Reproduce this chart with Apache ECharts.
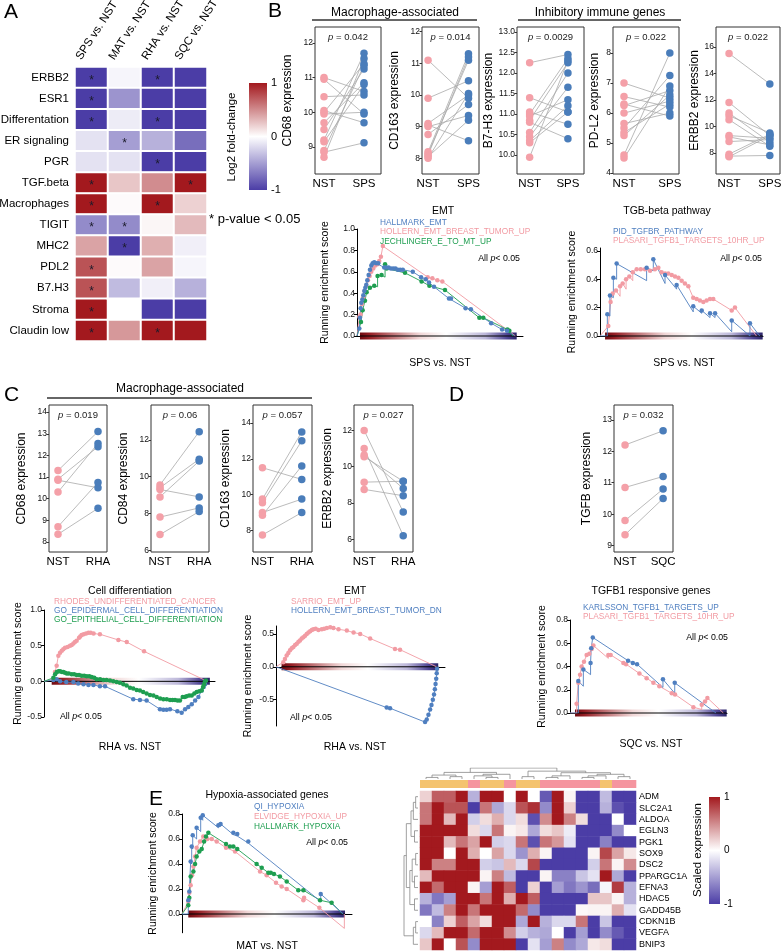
<!DOCTYPE html>
<html><head><meta charset="utf-8">
<script src="https://cdn.jsdelivr.net/npm/echarts@6/dist/echarts.min.js"></script>
<style>html,body{margin:0;padding:0;background:#fff}#c{width:784px;height:952px}</style>
</head><body><div id="c"></div>
<script>
// ================= DATA =================
// Panel A heatmap
const heatA_rows = ['ERBB2','ESR1','Differentation','ER signaling','PGR','TGF.beta','Macrophages','TIGIT','MHC2','PDL2','B7.H3','Stroma','Claudin low'];
const heatA_cols = ['SPS vs. NST','MAT vs. NST','RHA vs. NST','SQC vs. NST'];
const heatA_SPS = [-1,-1,-1,-0.15,-0.15,1,1,-0.6,0.4,0.75,0.75,1,1];
const heatA_MAT = [-0.05,-0.55,-0.1,-0.5,-0.15,0.25,0.02,-0.6,-1,0.02,-0.35,0,0.45];
const heatA_RHA = [-1,-1,-1,-0.4,-1,0.5,1,0.04,0.35,0.4,-0.08,-1,1];
const heatA_SQC = [-1,-1,-1,-0.75,-1,1,0.2,0.3,-0.08,-0.05,-0.4,-1,1];
const starA_SPS = [0,1,2,5,6,7,9,10,11,12];
const starA_MAT = [3,7,8];
const starA_RHA = [0,2,4,6,12];
const starA_SQC = [5];
const cbTicks = [-1,0,1];

// Panel B paired plots (NST vs SPS)
const b_CD68_NST  = [11.0,10.95,10.45,10.05,10.0,9.95,9.7,9.5,9.2,9.15,8.9,8.85,8.7];
const b_CD68_SPS  = [10.6,9.95,10.5,9.7,11.4,10.0,10.85,11.25,11.7,10.8,11.35,9.12,11.55];
const b_CD163_NST = [11.1,9.9,9.1,9.05,9.0,8.75,8.2,8.15,8.1,8.05,8.0];
const b_CD163_SPS = [9.9,10.45,10.0,8.55,9.35,9.7,11.3,11.1,11.2,9.2,10.05];
const b_B7H3_NST  = [12.25,11.4,11.05,11.0,10.95,10.85,10.8,10.55,10.45,10.35,10.3,9.95];
const b_B7H3_SPS  = [12.45,11.05,10.75,12.35,11.35,12.25,10.4,12.0,11.65,11.2,11.05,12.3];
const b_PDL2_NST  = [7.0,6.55,6.3,6.25,6.0,5.65,5.5,5.35,5.25,4.6,4.5];
const b_PDL2_SPS  = [6.5,6.2,5.9,6.75,6.4,6.0,7.25,6.3,6.6,8.0,6.9];
const b_ERBB2_NST = [15.5,11.8,11.0,10.8,10.5,9.3,9.2,8.85,7.9,7.75,7.7];
const b_ERBB2_SPS = [13.2,9.3,8.8,9.5,8.5,9.1,8.6,9.0,9.4,7.8,9.3];
const b_pvals = ['0.042','0.014','0.0029','0.022','0.022'];

// Panel C paired plots (NST vs RHA) and D (NST vs SQC)
const c_CD68_NST  = [11.3,10.9,10.85,10.3,8.7,8.35];
const c_CD68_RHA  = [13.1,12.4,10.5,12.55,10.75,9.55];
const c_CD84_NST  = [9.55,9.4,9.3,8.9,7.8,6.85];
const c_CD84_RHA  = [12.45,10.95,8.9,10.85,8.3,8.1];
const c_CD163_NST = [11.5,9.75,9.55,9.0,8.85,7.75];
const c_CD163_RHA = [10.85,13.5,13.0,9.75,11.6,9.0];
const c_ERBB2_NST = [12.0,11.0,10.65,10.55,9.15,8.75];
const c_ERBB2_RHA = [7.5,6.2,8.8,9.2,9.2,8.4];
const c_pvals = ['0.019','0.06','0.057','0.027'];
const d_TGFB_NST  = [12.2,10.85,9.8,9.35];
const d_TGFB_SQC  = [12.65,11.2,10.8,10.5];
const d_pval = '0.032';

// GSEA curves: [rank, ES] or [rank, ES, ES just before the hit]
const gEmtHallmark = [[1.4,0.07],[1.8,0.17],[2.2,0.26],[2.6,0.31],[3.2,0.34],[3.8,0.38],[4.4,0.42],[5,0.45],[5.6,0.48],[6.2,0.52],[7,0.57],[7.8,0.62],[8.6,0.66],[9.4,0.68],[10.4,0.69],[11.6,0.68],[12.8,0.68],[16.4,0.64],[17.6,0.64],[19,0.64],[20.4,0.63],[21.8,0.63],[23.2,0.63],[24.6,0.62],[26,0.62],[27.6,0.62],[33.6,0.6],[38.6,0.55],[41.4,0.53],[43.4,0.5],[46.4,0.46],[55.4,0.35],[56.6,0.35],[65.4,0.26],[68.6,0.25],[80.8,0.12],[87.4,0.06],[90.4,0.05]];
const gEmtHollern = [[1.4,0.18],[2.2,0.2,0.15],[3,0.3],[3.8,0.36],[4.6,0.42],[5.6,0.47],[6.6,0.52],[7.6,0.56],[8.6,0.6],[9.8,0.63],[11,0.66],[12.2,0.67],[13.4,0.7],[14.4,0.74],[15.6,0.84],[42.6,0.55],[45.4,0.54],[48.4,0.52],[51.4,0.51]];
const gEmtJech = [[2.4,0.13],[3.4,0.24],[4.8,0.33],[5.8,0.41],[7.8,0.45],[10.4,0.47],[12.4,0.56,0.46],[14.8,0.57],[16.9,0.67,0.55],[17.9,0.63],[28.9,0.59],[38.9,0.51],[43.6,0.47],[53,0.43],[73.7,0.17],[76.1,0.17],[90.6,0.06],[91.8,0.05]];
const gPid = [[4.5,0.154,0],[6.1,0.286,0.14],[8.2,0.41,0.27],[10.2,0.51,0.4],[28.6,0.48,0.39],[32.7,0.54,0.46],[39.9,0.43,0.37],[47,0.36,0.33],[57.2,0.21,0.17],[62.4,0.18,0.16],[67.5,0.16,0.13],[70.6,0.16,0.13],[80.8,0.11,0.03],[92,0.09,0.0]];
const gPlasariB = [[5.1,0.07],[6.5,0.24],[7.8,0.3],[9.8,0.32],[12.3,0.35,0.28],[13.9,0.37],[16,0.4,0.33],[18,0.42],[20.1,0.45,0.39],[22.5,0.47],[25,0.47],[27.6,0.47],[30.7,0.46],[33.7,0.47],[35.8,0.48],[37.8,0.45],[39.9,0.44],[41.9,0.44],[44,0.43],[46,0.42],[48.1,0.41],[50.1,0.39],[52.1,0.37],[54.2,0.35],[57.2,0.27],[59.3,0.26],[61.3,0.25],[63.4,0.24],[65.4,0.25],[67.5,0.26],[69.5,0.26],[80.8,0.18],[82.8,0.2]];
const gRhodes = [[5.5,0.03],[6.4,0.13],[7.4,0.22],[8.4,0.36],[9.4,0.4],[10.4,0.43],[11.3,0.45],[12.3,0.47],[13.8,0.48],[15.2,0.5],[16.2,0.51],[17.2,0.53],[18.1,0.55],[19.1,0.57],[20.5,0.61],[21.2,0.63],[22,0.65],[23.2,0.66],[24.6,0.67],[26,0.68],[27.3,0.68],[29,0.67],[32.7,0.66],[43.5,0.58],[48.4,0.55],[58.5,0.42]];
const gEpidermal = [[5.5,0.02],[7.4,0.03],[9.4,0.0],[13,-0.01],[17.2,-0.01],[20,-0.03],[23.1,-0.04],[26,-0.05],[28.9,-0.05],[32.7,-0.07],[35.7,-0.07],[52.2,-0.25],[56.1,-0.26],[60,-0.27],[67.8,-0.39],[69.8,-0.4],[71.7,-0.4],[73.7,-0.39],[78,-0.42],[80.5,-0.44],[82.5,-0.39],[84.4,-0.36],[86.4,-0.32],[88.4,-0.27],[90.3,-0.22],[92.2,-0.13],[93.4,-0.08],[94.2,-0.04]];
const gEpithelial = [[5.5,0.05],[6.5,0.1],[7.5,0.13],[8.5,0.14],[9.4,0.14],[10.5,0.13],[11.3,0.13],[12.3,0.12],[13.3,0.11],[14.5,0.11],[16.2,0.1],[17.6,0.1],[19.1,0.09],[20.5,0.09],[22,0.08],[23.5,0.08],[25,0.07],[26.5,0.07],[27.9,0.06],[29.4,0.05],[30.8,0.03],[32.8,0.03],[34.7,0.02],[36.6,0.02],[38.6,0.01],[40.5,0.0],[42.5,-0.01],[44.4,-0.02],[46.4,-0.04],[48.3,-0.06],[50.3,-0.09],[52.2,-0.1],[54.2,-0.12],[56.1,-0.13],[58,-0.15],[60,-0.17],[62,-0.19],[64,-0.2],[65.9,-0.22],[67.9,-0.24],[69.8,-0.25],[71.8,-0.25],[73.7,-0.26],[75.2,-0.26],[76.6,-0.26],[78.1,-0.27],[79.5,-0.27],[81.1,-0.22],[82.3,-0.22],[83.4,-0.21],[84.9,-0.2],[86.4,-0.2],[87.9,-0.17],[89.3,-0.15],[90.8,-0.14],[92.2,-0.13],[93,-0.08],[93.6,-0.04],[94.2,0.0],[94.7,0.01]];
const gSarrio = [[4.3,0.07],[5.3,0.12],[6.3,0.17],[7.3,0.21],[8.3,0.25],[9.3,0.28],[10.3,0.3],[11.3,0.33],[12.3,0.35],[13.3,0.38],[14.2,0.4],[15.2,0.43],[16.2,0.45],[17.2,0.47],[18.2,0.5],[19.2,0.52],[20.2,0.54],[21.2,0.56],[22.1,0.57],[23.5,0.58],[25.1,0.56],[27.1,0.57],[28.5,0.58],[30.1,0.59],[32.1,0.6],[34,0.59],[37,0.57],[41.9,0.55],[45.9,0.52],[49.8,0.5],[55.7,0.43],[70.4,0.27],[73.4,0.26]];
const gHollernDn = [[65.5,-0.62],[67.5,-0.63],[88.2,-0.84],[89.2,-0.8],[90.2,-0.73],[91.2,-0.65],[92,-0.58],[92.8,-0.5],[93.5,-0.42],[94,-0.34],[94.4,-0.26],[94.8,-0.18],[95.1,-0.1],[95.3,-0.03]];
const gKarlsson = [[5.3,0.275,0],[8.5,0.375,0.23],[13.1,0.43,0.33],[13.5,0.556,0.43],[14.5,0.65,0.556],[37,0.45],[40,0.43],[42.7,0.42],[59.2,0.29,0.22],[66.7,0.26,0.17]];
const gPlasariD = [[4.2,0.08,0],[5.3,0.26],[6.4,0.33],[7.4,0.4],[8.9,0.44],[10.6,0.5],[12.3,0.51],[13.8,0.55],[14.9,0.58],[24.4,0.5,0.47],[25.9,0.5],[34,0.43],[35.7,0.42],[44.2,0.34],[48.8,0.3],[53.1,0.26],[56.9,0.23],[64.8,0.17],[66.9,0.16],[78.6,0.05],[83.9,0.07,0.03],[86,0.1],[87.5,0.13]];
const gQi = [[3.7,0.11,0],[4.3,0.18,0.1],[5.1,0.42,0.17],[5.7,0.54,0.4],[6.3,0.63,0.52],[8.6,0.69,0.6],[11,0.77,0.66],[12.2,0.79,0.75],[21.4,0.71,0.69],[22.7,0.72,0.7],[30.2,0.65,0.635],[32.5,0.64,0.624],[39,0.58,0.567],[81.6,0.16,0.1]];
const gElvidge = [[3.7,0.1],[4.3,0.17],[5.1,0.23],[5.9,0.31],[6.7,0.38],[7.7,0.46],[8.6,0.53],[10.6,0.58],[12.5,0.62],[14.9,0.6],[17.5,0.6],[20.4,0.58],[25.9,0.53],[31.2,0.5],[45.9,0.34],[49.8,0.31],[55.3,0.25],[58.6,0.22],[61.6,0.2],[71.4,0.11],[71.8,0.13],[80.8,0.05]];
const gHallmarkHyp = [[3.7,0.07],[4.3,0.13],[5.1,0.3],[6.7,0.34],[7.7,0.4],[8.6,0.46],[10.2,0.5],[11.6,0.52],[13,0.58],[14.1,0.62],[15.5,0.65],[25.9,0.56],[28.2,0.54],[30.2,0.54],[32.5,0.52],[43.9,0.4],[46.9,0.37],[50.8,0.33],[52.2,0.33],[54.1,0.32],[57.6,0.3],[61.6,0.26],[68.4,0.19],[71.4,0.19],[81.2,0.11],[88,0.09]];

// Panel E heatmap
const heatE_genes = ['ADM','SLC2A1','ALDOA','EGLN3','PGK1','SOX9','DSC2','PPARGC1A','EFNA3','HDAC5','GADD45B','CDKN1B','VEGFA','BNIP3'];
const heatE_ADM      = [0.2,0.7,0.7,1,-0.4,1,1,0,1,0,-0.85,1,0.05,-1,-1,-0.35,-1,-1];
const heatE_SLC2A1   = [0.6,1,0.75,0.75,-1,0.6,-0.45,-0.2,0.75,0.9,-0.6,1,0.2,-1,-1,-0.4,-0.9,-1];
const heatE_ALDOA    = [0.6,1,0.3,1,-0.25,0.15,0.35,-0.2,0.15,-0.9,0.5,1,0.55,0.15,-1,-1,0,-1];
const heatE_EGLN3    = [1,1,1,1,0.15,-0.2,0.6,0.05,0.1,-0.45,0.15,0.25,-0.1,-1,-1,-1,-0.6,0];
const heatE_PGK1     = [1,1,0.3,0.6,0.4,1,-0.25,-0.2,0.6,-0.9,0.6,0.45,-0.15,-1,-1,-0.65,-1,-1];
const heatE_SOX9     = [1,1,0,1,0.35,0,0.4,-0.2,-0.55,0.35,0.05,-1,-1,-1,0.05,0.8,0.4,0.1];
const heatE_DSC2     = [1,0.55,0.55,1,1,-0.25,-0.3,0.3,-0.2,0.8,-1,-1,-1,-1,-0.25,0.6,0.05,0.5];
const heatE_PPARGC1A = [0.3,1,1,1,1,0.05,0.55,-0.35,-1,-1,0.05,-0.65,-0.65,-0.3,-0.15,1,-0.45,-1];
const heatE_EFNA3    = [1,0.65,1,1,0.05,-0.5,1,0.7,-1,0.2,-1,-0.5,-0.7,-0.55,-0.75,-0.05,0.85,-0.4];
const heatE_HDAC5    = [-0.4,-0.7,-0.5,1,1,0.6,1,0.35,1,0.7,-1,-1,-1,-1,0.25,0.25,0.05,-0.4];
const heatE_GADD45B  = [-0.7,-0.35,0.55,1,0.6,1,1,1,0.65,-0.6,-1,-1,-1,0.03,0.05,0.05,0.35,-0.15];
const heatE_CDKN1B   = [0,-0.65,0.2,0.7,0.4,0.15,1,1,-0.45,1,-0.4,-0.2,-0.2,0.6,-1,-0.3,-1,-1];
const heatE_VEGFA    = [-0.2,0.3,1,1,0.65,1,1,0.5,-0.25,-0.4,-0.45,0,-1,-0.5,-1,-0.6,-0.85,-1];
const heatE_BNIP3    = [0.25,1,0,0.75,-0.6,1,1,1,-1,-0.15,-0.5,0.55,-0.6,-0.45,0.1,0.15,-1,-1];
const heatE_groups   = ['MAT','MAT','MAT','MAT','NST','MAT','MAT','NST','MAT','MAT','NST','NST','NST','NST','NST','MAT','NST','NST'];
// dendrogram merges: [childA, childB, height]; leaves are 0..n-1, merge k creates node n+k
const colMerges = [[0,1,1],[2,3,1.5],[18,19,2.5],[5,6,1],[4,21,2],[22,7,3],[20,23,4.2],[8,9,1.5],[10,11,1],[26,12,2],[13,14,1],[28,15,2],[16,17,1.5],[29,30,3],[27,31,4],[25,32,5],[24,33,7]];
const rowMerges = [[0,1,1],[14,2,2],[3,4,1.5],[15,16,3],[5,6,1],[7,8,1.5],[18,19,2.5],[9,10,1.5],[20,21,3.5],[17,22,5],[11,12,1],[24,13,2],[23,25,6]];

// ================= BUILD =================
const FONT = "'Liberation Sans', Arial, Helvetica, sans-serif";
const PINK = '#F4A0A8', BLUE = '#4A7DBA';
const GS_PINK = '#F29BA3', GS_BLUE = '#4F7FC0', GS_GREEN = '#1E9E50';
const HM_LOW = '#4B3DA6', HM_MID = '#FFFFFF', HM_HIGH = '#A3191E';
const grids = [], xAxes = [], yAxes = [], series = [], graphics = [];

function addGrid(g) { grids.push(Object.assign({ outerBoundsMode: 'none' }, g)); return grids.length - 1; }
function T(x, y, text, o) {
  o = o || {};
  const st = { text: text, fill: o.color || '#000', fontSize: o.size || 11, fontFamily: FONT,
    fontStyle: o.italic ? 'italic' : 'normal', align: o.align || 'left', verticalAlign: o.va || 'middle' };
  if (o.rich) st.rich = o.rich;
  graphics.push({ type: 'text', x: x, y: y, rotation: o.rot || 0, silent: true, z: 100, style: st });
}
function richP(size, color) {
  return { i: { fontStyle: 'italic', fontSize: size, fontFamily: FONT, fill: color },
           n: { fontSize: size, fontFamily: FONT, fill: color } };
}
function L(x1, y1, x2, y2, w, c) {
  graphics.push({ type: 'line', silent: true, z: 100, shape: { x1: x1, y1: y1, x2: x2, y2: y2 }, style: { stroke: c || '#555', lineWidth: w || 1 } });
}

// ---------- Paired plot ----------
function pairPlot(cfg) {
  const gi = addGrid({ left: cfg.left, top: cfg.top, width: cfg.width, height: cfg.height, show: true, borderColor: '#333', borderWidth: 1, backgroundColor: 'transparent' });
  xAxes.push({ gridIndex: gi, type: 'value', min: cfg.xmin, max: cfg.xmax,
    axisLine: { show: false, onZero: false }, axisTick: { show: false }, splitLine: { show: false },
    axisLabel: { customValues: [0, 1], formatter: v => (v < 0.5 ? cfg.cats[0] : cfg.cats[1]), fontSize: 11.5, color: '#000', margin: 4, fontFamily: FONT } });
  yAxes.push({ gridIndex: gi, type: 'value', min: cfg.ymin, max: cfg.ymax,
    axisLine: { show: false, onZero: false }, splitLine: { show: false },
    axisTick: { show: true, customValues: cfg.ticks, length: 2.5, lineStyle: { color: '#333' } },
    axisLabel: { customValues: cfg.ticks, formatter: v => cfg.dec ? v.toFixed(cfg.dec) : String(v), fontSize: 8.5, color: '#111', margin: 2, fontFamily: FONT },
    name: cfg.yname, nameLocation: 'middle', nameGap: cfg.nameGap, nameTextStyle: { fontSize: 12, color: '#000', fontFamily: FONT } });
  const xi = xAxes.length - 1, yi = yAxes.length - 1;
  series.push({ type: 'lines', coordinateSystem: 'cartesian2d', xAxisIndex: xi, yAxisIndex: yi, silent: true,
    lineStyle: { color: '#A9A9A9', width: 0.8, opacity: 1 },
    data: cfg.a.map((v, i) => ({ coords: [[0, v], [1, cfg.b[i]]] })) });
  series.push({ type: 'scatter', xAxisIndex: xi, yAxisIndex: yi, symbolSize: 7.5, silent: true,
    itemStyle: { color: PINK, opacity: 1 }, data: cfg.a.map(v => [0, v]) });
  series.push({ type: 'scatter', xAxisIndex: xi, yAxisIndex: yi, symbolSize: 7.5, silent: true,
    itemStyle: { color: BLUE, opacity: 1 }, data: cfg.b.map(v => [1, v]) });
  T(cfg.left + cfg.width / 2, cfg.top + 10, '{i|p}{n| = ' + cfg.p + '}', { align: 'center', rich: richP(9.5, '#222') });
}

// ---------- GSEA plot ----------
const barStops = [{ offset: 0, color: '#6E0A10' }, { offset: 0.06, color: '#951E24' }, { offset: 0.38, color: '#F1D7D7' },
  { offset: 0.55, color: '#FFFFFF' }, { offset: 0.8, color: '#BDB8DA' }, { offset: 0.94, color: '#4E4493' }, { offset: 1, color: '#2B2467' }];
function gsea(cfg) {
  const gi = addGrid({ left: cfg.left, top: cfg.top, width: cfg.width, height: cfg.height });
  xAxes.push({ gridIndex: gi, type: 'value', min: 0, max: 100, axisLine: { onZero: true, lineStyle: { color: '#000', width: 1 } },
    axisTick: { show: false }, axisLabel: { show: false }, splitLine: { show: false } });
  yAxes.push({ gridIndex: gi, type: 'value', min: cfg.min, max: cfg.max,
    axisLine: { show: true, onZero: false, lineStyle: { color: '#000', width: 1 } }, splitLine: { show: false },
    axisTick: { show: true, customValues: cfg.ticks, length: 3, lineStyle: { color: '#000' } },
    axisLabel: { customValues: cfg.ticks, formatter: v => v.toFixed(1), fontSize: 8.5, color: '#111', margin: 2, fontFamily: FONT },
    name: 'Running enrichment score', nameLocation: 'middle', nameGap: cfg.nameGap, nameTextStyle: { fontSize: 10.5, color: '#000', fontFamily: FONT } });
  const xi = xAxes.length - 1, yi = yAxes.length - 1;
  series.push({ type: 'custom', xAxisIndex: xi, yAxisIndex: yi, silent: true, z: 1, data: [[cfg.bar[0], 0, cfg.bar[1]]],
    renderItem: (params, api) => {
      const p0 = api.coord([api.value(0), 0]), p1 = api.coord([api.value(2), 0]);
      return { type: 'group', children: [
        { type: 'rect', shape: { x: p0[0], y: p0[1] - 3.5, width: p1[0] - p0[0], height: 7 },
          style: { fill: new echarts.graphic.LinearGradient(0, 0, 1, 0, barStops) } },
        { type: 'line', shape: { x1: p0[0], y1: p0[1], x2: p1[0], y2: p1[1] }, style: { stroke: '#000', lineWidth: 1 } } ] };
    } });
  cfg.curves.forEach(cv => {
    const path = [[0, 0]];
    cv.d.forEach(p => { if (p.length > 2) path.push([p[0], p[2]]); path.push([p[0], p[1]]); });
    cv.end.forEach(p => path.push(p));
    series.push({ type: 'line', xAxisIndex: xi, yAxisIndex: yi, data: path, showSymbol: false, symbol: 'none', silent: true, z: 3,
      lineStyle: { color: cv.c, width: 0.9 } });
    series.push({ type: 'scatter', xAxisIndex: xi, yAxisIndex: yi, data: cv.d.map(p => [p[0], p[1]]), symbolSize: 4.5, silent: true, z: 4,
      itemStyle: { color: cv.c, opacity: 1 } });
  });
  T(cfg.title[0], cfg.title[1], cfg.title[2], { align: 'center', size: 10.5 });
  cfg.legend.forEach((lg, i) => T(cfg.legX, cfg.legY[i], lg[0], { color: lg[1], size: 8.3 }));
  T(cfg.allp[0], cfg.allp[1], '{n|All }{i|p}{n|< 0.05}', { align: cfg.allp[2], rich: richP(8.8, '#000') });
  T(cfg.xt[0], cfg.xt[1], cfg.xt[2], { align: 'center', size: 10.5 });
}

// ---------- Colorbar ----------
function colorbar(left, top, width, height, size) {
  const gi = addGrid({ left: left, top: top, width: width, height: height });
  xAxes.push({ gridIndex: gi, type: 'value', show: false, min: 0, max: 1 });
  yAxes.push({ gridIndex: gi, type: 'value', position: 'right', min: -1, max: 1,
    axisLine: { show: false, onZero: false }, axisTick: { show: false }, splitLine: { show: false },
    axisLabel: { customValues: cbTicks, fontSize: size, color: '#000', margin: 4, fontFamily: FONT } });
  series.push({ type: 'custom', xAxisIndex: xAxes.length - 1, yAxisIndex: yAxes.length - 1, silent: true, data: [[0.5, 0]],
    renderItem: (params) => {
      const cs = params.coordSys;
      return { type: 'rect', shape: { x: cs.x, y: cs.y, width: cs.width, height: cs.height },
        style: { fill: new echarts.graphic.LinearGradient(0, 0, 0, 1, [{ offset: 0, color: HM_HIGH }, { offset: 0.5, color: HM_MID }, { offset: 1, color: HM_LOW }]) } };
    } });
}

// ================= PANEL A =================
const A_LEFT = 75, A_TOP = 67, A_W = 132, A_H = 274;
let gi = addGrid({ left: A_LEFT, top: A_TOP, width: A_W, height: A_H });
xAxes.push({ gridIndex: gi, type: 'category', data: heatA_cols, position: 'top', axisLine: { show: false }, axisTick: { show: false },
  splitLine: { show: false }, axisLabel: { show: false } });
yAxes.push({ gridIndex: gi, type: 'category', data: heatA_rows, inverse: true, axisLine: { show: false }, axisTick: { show: false },
  splitLine: { show: false }, axisLabel: { fontSize: 11.5, color: '#000', margin: 6, interval: 0, fontFamily: FONT } });
// rotated column headers (bottom-left corner of each label sits just above its column)
heatA_cols.forEach((name, c) => {
  const cx = A_LEFT + A_W / heatA_cols.length * (c + 0.5);
  T(cx - 8, A_TOP - 5, name, { rot: 57 * Math.PI / 180, va: 'bottom', size: 11.5 });
});
const heatA_vals = [heatA_SPS, heatA_MAT, heatA_RHA, heatA_SQC];
const heatA_stars = [starA_SPS, starA_MAT, starA_RHA, starA_SQC];
const heatA_data = [];
heatA_vals.forEach((col, c) => col.forEach((v, r) => heatA_data.push([c, r, v, heatA_stars[c].includes(r) ? 1 : 0])));
const idxA = series.length;
series.push({ type: 'heatmap', xAxisIndex: xAxes.length - 1, yAxisIndex: yAxes.length - 1, data: heatA_data, silent: true,
  itemStyle: { borderColor: '#fff', borderWidth: 2 },
  label: { show: true, formatter: p => (p.value[3] ? '*' : ''), fontSize: 12, color: '#1b1b2b', offset: [0, 3], fontFamily: FONT } });
colorbar(249, 83, 18, 107, 11);
T(232, 137, 'Log2 fold-change', { align: 'center', rot: Math.PI / 2, size: 11.5 });
T(209, 219, '* p-value < 0.05', { size: 13 });

// ================= PANEL B =================
pairPlot({ left: 315, top: 27, width: 66, height: 147, xmin: -0.225, xmax: 1.425, ymin: 8.22, ymax: 12.46, ticks: [9, 10, 11, 12], cats: ['NST', 'SPS'], yname: 'CD68 expression', nameGap: 21, a: b_CD68_NST, b: b_CD68_SPS, p: b_pvals[0] });
pairPlot({ left: 422, top: 27, width: 57, height: 147, xmin: -0.15, xmax: 1.26, ymin: 7.5, ymax: 12.15, ticks: [8, 9, 10, 11, 12], cats: ['NST', 'SPS'], yname: 'CD163 expression', nameGap: 21, a: b_CD163_NST, b: b_CD163_SPS, p: b_pvals[1] });
pairPlot({ left: 517, top: 27, width: 67, height: 147, xmin: -0.33, xmax: 1.42, ymin: 9.54, ymax: 13.12, ticks: [10, 10.5, 11, 11.5, 12, 12.5, 13], dec: 1, cats: ['NST', 'SPS'], yname: 'B7-H3 expression', nameGap: 18, a: b_B7H3_NST, b: b_B7H3_SPS, p: b_pvals[2] });
pairPlot({ left: 613, top: 27, width: 66, height: 147, xmin: -0.24, xmax: 1.2, ymin: 3.97, ymax: 8.87, ticks: [4, 5, 6, 7, 8], cats: ['NST', 'SPS'], yname: 'PD-L2 expression', nameGap: 12, a: b_PDL2_NST, b: b_PDL2_SPS, p: b_pvals[3] });
pairPlot({ left: 716, top: 27, width: 64, height: 147, xmin: -0.32, xmax: 1.25, ymin: 6.4, ymax: 17.5, ticks: [8, 10, 12, 14, 16], cats: ['NST', 'SPS'], yname: 'ERBB2 expression', nameGap: 10, a: b_ERBB2_NST, b: b_ERBB2_SPS, p: b_pvals[4] });
T(395, 13, 'Macrophage-associated', { align: 'center', size: 12 });
L(312, 20, 477, 20, 2, '#666');
T(600, 13, 'Inhibitory immune genes', { align: 'center', size: 12 });
L(518, 20, 681, 20, 2, '#666');

gsea({ left: 357, top: 229, width: 166, height: 107, min: 0, max: 1.0, ticks: [0, 0.2, 0.4, 0.6, 0.8, 1.0], nameGap: 26, bar: [1.8, 96.2],
  curves: [{ d: gEmtHollern, end: [[95.5, 0]], c: GS_PINK }, { d: gEmtJech, end: [[94, 0]], c: GS_GREEN }, { d: gEmtHallmark, end: [[95, 0]], c: GS_BLUE }],
  title: [443, 211, 'EMT'], legX: 380, legY: [223, 232, 242],
  legend: [['HALLMARK_EMT', GS_BLUE], ['HOLLERN_EMT_BREAST_TUMOR_UP', GS_PINK], ['JECHLINGER_E_TO_MT_UP', GS_GREEN]],
  allp: [520, 259, 'right'], xt: [440, 363, 'SPS vs. NST'] });
gsea({ left: 600, top: 248, width: 163, height: 88, min: 0, max: 0.62, ticks: [0, 0.2, 0.4, 0.6], nameGap: 22, bar: [3.1, 99.8],
  curves: [{ d: gPlasariB, end: [[96, 0]], c: GS_PINK }, { d: gPid, end: [[98, 0]], c: GS_BLUE }],
  title: [667, 211, 'TGB-beta pathway'], legX: 613, legY: [232, 241],
  legend: [['PID_TGFBR_PATHWAY', GS_BLUE], ['PLASARI_TGFB1_TARGETS_10HR_UP', GS_PINK]],
  allp: [762, 259, 'right'], xt: [684, 363, 'SPS vs. NST'] });

// ================= PANEL C / D =================
pairPlot({ left: 49, top: 405, width: 58, height: 147, xmin: -0.225, xmax: 1.225, ymin: 7.53, ymax: 14.33, ticks: [8, 9, 10, 11, 12, 13, 14], cats: ['NST', 'RHA'], yname: 'CD68 expression', nameGap: 21, a: c_CD68_NST, b: c_CD68_RHA, p: c_pvals[0] });
pairPlot({ left: 151, top: 405, width: 58, height: 147, xmin: -0.23, xmax: 1.25, ymin: 5.9, ymax: 13.9, ticks: [6, 8, 10, 12], cats: ['NST', 'RHA'], yname: 'CD84 expression', nameGap: 21, a: c_CD84_NST, b: c_CD84_RHA, p: c_pvals[1] });
pairPlot({ left: 253, top: 405, width: 59, height: 147, xmin: -0.24, xmax: 1.26, ymin: 6.8, ymax: 15, ticks: [8, 10, 12, 14], cats: ['NST', 'RHA'], yname: 'CD163 expression', nameGap: 21, a: c_CD163_NST, b: c_CD163_RHA, p: c_pvals[2] });
pairPlot({ left: 354, top: 405, width: 59, height: 147, xmin: -0.26, xmax: 1.25, ymin: 5.3, ymax: 13.4, ticks: [6, 8, 10, 12], cats: ['NST', 'RHA'], yname: 'ERBB2 expression', nameGap: 20, a: c_ERBB2_NST, b: c_ERBB2_RHA, p: c_pvals[3] });
pairPlot({ left: 614, top: 405, width: 59, height: 147, xmin: -0.29, xmax: 1.26, ymin: 8.8, ymax: 13.47, ticks: [9, 10, 11, 12, 13], cats: ['NST', 'SQC'], yname: 'TGFB expression', nameGap: 21, a: d_TGFB_NST, b: d_TGFB_SQC, p: d_pval });
T(180, 389, 'Macrophage-associated', { align: 'center', size: 12 });
L(47, 398, 312, 398, 2, '#666');

gsea({ left: 44, top: 610, width: 171, height: 107, min: -0.5, max: 1.0, ticks: [-0.5, 0, 0.5, 1.0], nameGap: 20, bar: [4.5, 97],
  curves: [{ d: gRhodes, end: [[95.5, 0]], c: GS_PINK }, { d: gEpidermal, end: [[95.5, 0]], c: GS_BLUE }, { d: gEpithelial, end: [[95.5, 0]], c: GS_GREEN }],
  title: [130, 591, 'Cell differentiation'], legX: 54, legY: [602, 611, 620],
  legend: [['RHODES_UNDIFFERENTIATED_CANCER', GS_PINK], ['GO_EPIDERMAL_CELL_DIFFERENTIATION', GS_BLUE], ['GO_EPITHELIAL_CELL_DIFFERENTIATION', GS_GREEN]],
  allp: [60, 717, 'left'], xt: [130, 747, 'RHA vs. NST'] });
gsea({ left: 276, top: 626, width: 169, height: 100, min: -0.9, max: 0.62, ticks: [-0.5, 0, 0.5], nameGap: 22, bar: [3.3, 96],
  curves: [{ d: gSarrio, end: [[95, 0]], c: GS_PINK }, { d: gHollernDn, end: [[95.5, 0]], c: GS_BLUE }],
  title: [355, 591, 'EMT'], legX: 291, legY: [602, 611],
  legend: [['SARRIO_EMT_UP', GS_PINK], ['HOLLERN_EMT_BREAST_TUMOR_DN', GS_BLUE]],
  allp: [290, 718, 'left'], xt: [355, 747, 'RHA vs. NST'] });
gsea({ left: 570, top: 620, width: 157, height: 93, min: 0, max: 0.8, ticks: [0, 0.2, 0.4, 0.6, 0.8], nameGap: 22, bar: [3.2, 99.8],
  curves: [{ d: gPlasariD, end: [[97.7, 0]], c: GS_PINK }, { d: gKarlsson, end: [[93, 0]], c: GS_BLUE }],
  title: [651, 591, 'TGFB1 responsive genes'], legX: 583, legY: [608, 617],
  legend: [['KARLSSON_TGFB1_TARGETS_UP', GS_BLUE], ['PLASARI_TGFB1_TARGETS_10HR_UP', GS_PINK]],
  allp: [728, 638, 'right'], xt: [651, 744, 'SQC vs. NST'] });

// ================= PANEL E =================
gsea({ left: 182, top: 814, width: 170, height: 118.75, min: -0.15, max: 0.8, ticks: [0, 0.2, 0.4, 0.6, 0.8], nameGap: 23, bar: [3.7, 95.9],
  curves: [{ d: gElvidge, end: [[95.5, -0.115], [95.5, 0]], c: GS_PINK }, { d: gHallmarkHyp, end: [[94.5, 0]], c: GS_GREEN }, { d: gQi, end: [[94.9, 0]], c: GS_BLUE }],
  title: [267, 795, 'Hypoxia-associated genes'], legX: 254, legY: [807, 817, 827],
  legend: [['QI_HYPOXIA', GS_BLUE], ['ELVIDGE_HYPOXIA_UP', GS_PINK], ['HALLMARK_HYPOXIA', GS_GREEN]],
  allp: [348, 843, 'right'], xt: [267, 946, 'MAT vs. NST'] });

// heatmap E
const heatE_rows = [heatE_ADM, heatE_SLC2A1, heatE_ALDOA, heatE_EGLN3, heatE_PGK1, heatE_SOX9, heatE_DSC2, heatE_PPARGC1A, heatE_EFNA3, heatE_HDAC5, heatE_GADD45B, heatE_CDKN1B, heatE_VEGFA, heatE_BNIP3];
const nCol = heatE_groups.length;
gi = addGrid({ left: 420, top: 791, width: 216, height: 159 });
xAxes.push({ gridIndex: gi, type: 'category', data: heatE_groups.map((g, i) => String(i)), show: false });
yAxes.push({ gridIndex: gi, type: 'category', data: heatE_genes, inverse: true, position: 'right', axisLine: { show: false }, axisTick: { show: false },
  splitLine: { show: false }, axisLabel: { fontSize: 9, color: '#000', margin: 3, interval: 0, fontFamily: FONT } });
const heatE_data = [];
heatE_rows.forEach((row, r) => row.forEach((v, c) => heatE_data.push([c, r, v])));
const idxE = series.length;
series.push({ type: 'heatmap', xAxisIndex: xAxes.length - 1, yAxisIndex: yAxes.length - 1, data: heatE_data, silent: true });

// annotation bar
gi = addGrid({ left: 420, top: 780, width: 216, height: 8 });
xAxes.push({ gridIndex: gi, type: 'value', min: -0.5, max: nCol - 0.5, show: false });
yAxes.push({ gridIndex: gi, type: 'value', min: 0, max: 1, show: false });
series.push({ type: 'custom', xAxisIndex: xAxes.length - 1, yAxisIndex: yAxes.length - 1, silent: true,
  data: heatE_groups.map((g, i) => [i, g === 'MAT' ? 1 : 0]),
  renderItem: (params, api) => {
    const p0 = api.coord([api.value(0) - 0.5, 1]), p1 = api.coord([api.value(0) + 0.5, 0]);
    return { type: 'rect', shape: { x: p0[0], y: p0[1], width: p1[0] - p0[0] + 0.3, height: p1[1] - p0[1] },
      style: { fill: api.value(1) ? '#F4C36E' : '#F5959F' } };
  } });

// dendrograms
function dendro(merges, nLeaf, vertical) {
  const pos = [], hgt = [];
  for (let i = 0; i < nLeaf; i++) { pos[i] = i; hgt[i] = 0; }
  const segs = [];
  merges.forEach((m, k) => {
    const a = m[0], b = m[1], h = m[2], id = nLeaf + k;
    pos[id] = (pos[a] + pos[b]) / 2; hgt[id] = h;
    const pts = [[pos[a], hgt[a]], [pos[a], h], [pos[b], h], [pos[b], hgt[b]]];
    segs.push({ coords: vertical ? pts : pts.map(p => [p[1], p[0]]) });
  });
  return segs;
}
gi = addGrid({ left: 420, top: 768, width: 216, height: 11 });
xAxes.push({ gridIndex: gi, type: 'value', min: -0.5, max: nCol - 0.5, show: false });
yAxes.push({ gridIndex: gi, type: 'value', min: 0, max: 7, show: false });
series.push({ type: 'lines', coordinateSystem: 'cartesian2d', polyline: true, xAxisIndex: xAxes.length - 1, yAxisIndex: yAxes.length - 1, silent: true,
  lineStyle: { color: '#888', width: 0.8, opacity: 1 }, data: dendro(colMerges, nCol, true) });
gi = addGrid({ left: 404, top: 791, width: 14, height: 159 });
xAxes.push({ gridIndex: gi, type: 'value', min: 0, max: 6, inverse: true, show: false });
yAxes.push({ gridIndex: gi, type: 'value', min: -0.5, max: heatE_genes.length - 0.5, inverse: true, show: false });
series.push({ type: 'lines', coordinateSystem: 'cartesian2d', polyline: true, xAxisIndex: xAxes.length - 1, yAxisIndex: yAxes.length - 1, silent: true,
  lineStyle: { color: '#888', width: 0.8, opacity: 1 }, data: dendro(rowMerges, heatE_genes.length, false) });

colorbar(709, 797, 11, 107, 10);
T(698, 850, 'Scaled expression', { align: 'center', rot: Math.PI / 2, size: 11.5 });

// panel letters
T(4, 12, 'A', { size: 21 });
T(268, 11, 'B', { size: 21 });
T(4, 395, 'C', { size: 21 });
T(449, 395, 'D', { size: 21 });
T(149, 799, 'E', { size: 21 });

const chart = echarts.init(document.getElementById('c'), null, { renderer: 'canvas' });
chart.setOption({
  animation: false,
  backgroundColor: '#fff',
  textStyle: { fontFamily: FONT },
  grid: grids, xAxis: xAxes, yAxis: yAxes, series: series,
  visualMap: [
    { type: 'continuous', show: false, min: -1, max: 1, dimension: 2, seriesIndex: [idxA], inRange: { color: [HM_LOW, HM_MID, HM_HIGH] } },
    { type: 'continuous', show: false, min: -1, max: 1, dimension: 2, seriesIndex: [idxE], inRange: { color: [HM_LOW, HM_MID, HM_HIGH] } }
  ],
  graphic: graphics
});
</script></body></html>
